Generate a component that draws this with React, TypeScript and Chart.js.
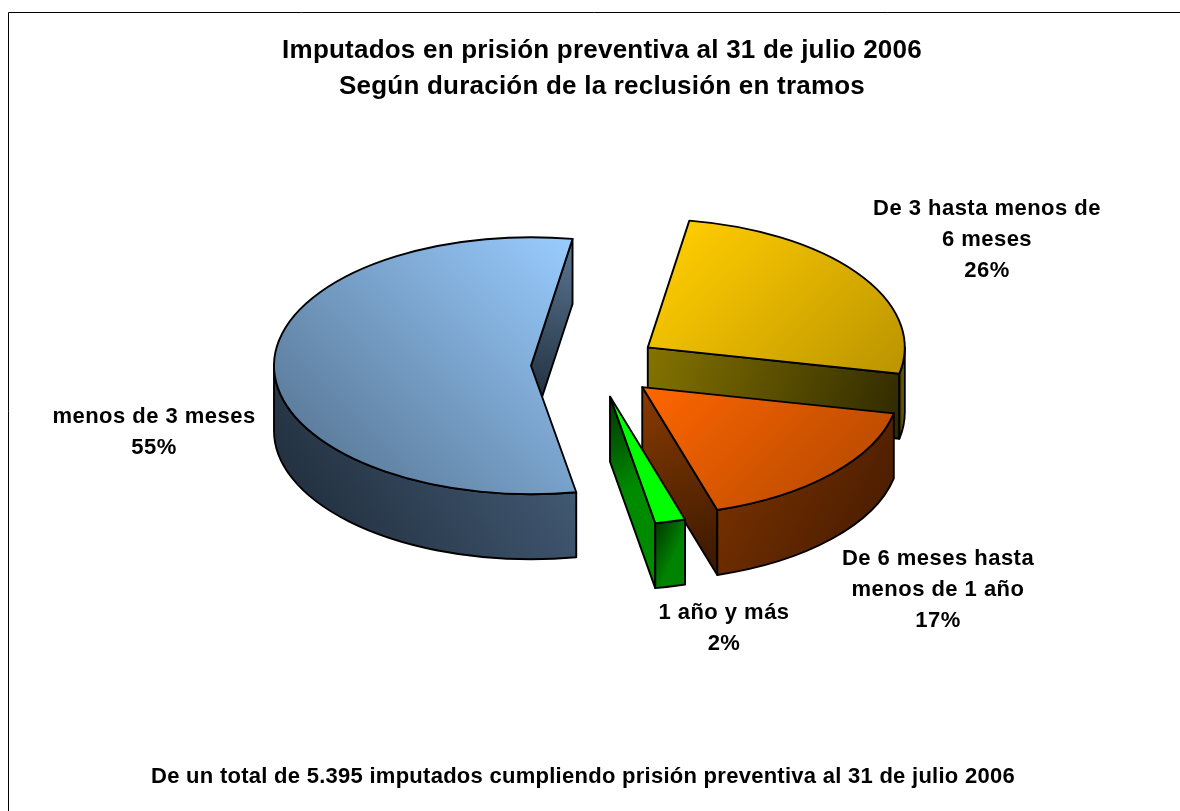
import React, { useEffect, useRef } from "react";
import { Chart, registerables } from "chart.js";

Chart.register(...registerables);

const categories = ["De 3 hasta menos de 6 meses", "De 6 meses hasta menos de 1 año", "1 año y más", "menos de 3 meses"];
const shares = [25.7, 17.0, 1.9, 55.4];
const labelLines = [
  ["De 3 hasta menos de", "6 meses"],
  ["De 6 meses hasta", "menos de 1 año"],
  ["1 año y más"],
  ["menos de 3 meses"],
];
const titleLines = ["Imputados en prisión preventiva al 31 de julio 2006", "Según duración de la reclusión en tramos"];
const footnote = "De un total de 5.395 imputados cumpliendo prisión preventiva al 31 de julio 2006";

const CANVAS_W = 1180;
const CANVAS_H = 811;
const PIE_X = 595;
const CENTER_Y = 365.5;
const RADIUS = 257;
const TILT = 0.5;
const DEPTH = 65;
const EXPLODE = 64;
const FONT = '"Liberation Sans", Arial, sans-serif';
const labelAnchors = [
  { x: 987, y: 209 },
  { x: 938, y: 559 },
  { x: 724, y: 613 },
  { x: 154, y: 417 },
];

type Grad = { from: [number, number]; to: [number, number]; c0: string; c1: string };
const topStyles: Grad[] = [
  { from: [-0.27, -0.13], to: [0.86, 0.43], c0: "#FFCC00", c1: "#BC9500" },
  { from: [0, 0], to: [0.86, 0.43], c0: "#FF6600", c1: "#C24E00" },
  { from: [0, 0], to: [1, 1], c0: "#00FF00", c1: "#00FF00" },
  { from: [0.53, -0.26], to: [-0.88, 0.44], c0: "#99CCFF", c1: "#5E7F9F" },
];
const cutStyles: Grad[] = [
  { from: [0, 0], to: [1, 1], c0: "#857400", c1: "#2E2800" },
  { from: [0, 0], to: [1, 1], c0: "#8A3C00", c1: "#381700" },
  { from: [0, 0], to: [1, 0.4], c0: "#003300", c1: "#008A00" },
  { from: [1, 0], to: [0, 1], c0: "#5C7894", c1: "#16222F" },
];
const outerStyles: Grad[] = [
  { from: [0, 0], to: [1, 0], c0: "#3A3300", c1: "#807000" },
  { from: [0, 0], to: [1, 0.6], c0: "#803500", c1: "#4A1D00" },
  { from: [0, 0], to: [1, 0.2], c0: "#003300", c1: "#008400" },
  { from: [0, 1], to: [1, 0], c0: "#1C2835", c1: "#4A6481" },
];

function boxGradient(ctx: CanvasRenderingContext2D, g: Grad, x0: number, y0: number, x1: number, y1: number) {
  const w = x1 - x0;
  const h = y1 - y0;
  const lg = ctx.createLinearGradient(x0 + g.from[0] * w, y0 + g.from[1] * h, x0 + g.to[0] * w, y0 + g.to[1] * h);
  lg.addColorStop(0, g.c0);
  lg.addColorStop(1, g.c1);
  return lg;
}

const pie3d = {
  id: "pie3d",
  beforeDraw(chart: any) {
    const ctx: any = chart.ctx;
    ctx.save();
    ctx.strokeStyle = "#000";
    ctx.lineWidth = 1;
    ctx.beginPath();
    ctx.moveTo(8.5, CANVAS_H);
    ctx.lineTo(8.5, 12.5);
    ctx.lineTo(CANVAS_W, 12.5);
    ctx.stroke();
    ctx.restore();
    ctx.letterSpacing = "0.22px";
  },
  beforeDatasetsDraw(chart: any) {
    const ctx: CanvasRenderingContext2D = chart.ctx;
    const arcs: any[] = chart.getDatasetMeta(0).data;
    const place = arcs.map((arc) => {
      const mid = (arc.startAngle + arc.endAngle) / 2;
      const dx = Math.cos(mid) * EXPLODE;
      const dy = Math.sin(mid) * EXPLODE;
      return {
        arc,
        dx: dx + PIE_X - arc.x,
        dy,
        cx: PIE_X + dx,
        cy: CENTER_Y + dy * TILT,
        r: arc.outerRadius,
      };
    });
    ctx.save();
    ctx.lineJoin = "round";
    ctx.lineWidth = 1.9;
    ctx.strokeStyle = "#000";
    // walls first
    place.forEach((p, i) => {
      const { arc, cx, cy, r } = p;
      const e = arc.endAngle;
      if (Math.cos(e) > 0) {
        const ex = cx + r * Math.cos(e);
        const ey = cy + r * TILT * Math.sin(e);
        ctx.beginPath();
        ctx.moveTo(cx, cy);
        ctx.lineTo(ex, ey);
        ctx.lineTo(ex, ey + DEPTH);
        ctx.lineTo(cx, cy + DEPTH);
        ctx.closePath();
        ctx.fillStyle = boxGradient(ctx, cutStyles[i], Math.min(cx, ex), Math.min(cy, ey), Math.max(cx, ex), Math.max(cy, ey) + DEPTH);
        ctx.fill();
        ctx.stroke();
      }
      const lo = Math.max(arc.startAngle, 0);
      const hi = Math.min(arc.endAngle, Math.PI);
      if (hi > lo) {
        const xs = [lo, hi, Math.PI / 2].filter((a) => a >= lo && a <= hi);
        const pts = [lo, hi].map((a) => cx + r * Math.cos(a));
        const top = Math.min(...xs.map((a) => cy + r * TILT * Math.sin(a)));
        const bottom = Math.max(...xs.map((a) => cy + r * TILT * Math.sin(a))) + DEPTH;
        ctx.beginPath();
        ctx.ellipse(cx, cy, r, r * TILT, 0, lo, hi, false);
        ctx.lineTo(cx + r * Math.cos(hi), cy + r * TILT * Math.sin(hi) + DEPTH);
        ctx.ellipse(cx, cy + DEPTH, r, r * TILT, 0, hi, lo, true);
        ctx.closePath();
        ctx.fillStyle = boxGradient(ctx, outerStyles[i], Math.min(...pts), top, Math.max(...pts), bottom);
        ctx.fill();
        ctx.stroke();
      }
    });
    // top faces through the library's arc elements, squashed into an ellipse
    place.forEach((p) => {
      const { arc, dx, dy, cx, cy, r } = p;
      ctx.save();
      ctx.translate(0, CENTER_Y - arc.y * TILT);
      ctx.scale(1, TILT);
      ctx.translate(dx, dy);
      arc.draw(ctx);
      ctx.restore();
      ctx.beginPath();
      ctx.moveTo(cx, cy);
      ctx.ellipse(cx, cy, r, r * TILT, 0, arc.startAngle, arc.endAngle, false);
      ctx.closePath();
      ctx.stroke();
    });
    ctx.restore();
    return false;
  },
  afterDraw(chart: any) {
    const ctx: any = chart.ctx;
    ctx.save();
    ctx.fillStyle = "#000";
    ctx.textAlign = "center";
    ctx.textBaseline = "middle";
    ctx.font = `bold 22px ${FONT}`;
    ctx.letterSpacing = "0.47px";
    shares.forEach((v, i) => {
      const lines = [...labelLines[i], `${Math.round(v)}%`];
      lines.forEach((t, k) => ctx.fillText(t, labelAnchors[i].x, labelAnchors[i].y + k * 31));
    });
    ctx.letterSpacing = "0.27px";
    ctx.fillText(footnote, 583, 777);
    ctx.restore();
  },
};

export default function App() {
  const ref = useRef<HTMLCanvasElement>(null);
  useEffect(() => {
    const chart = new Chart(ref.current as HTMLCanvasElement, {
      type: "pie",
      plugins: [pie3d],
      data: {
        labels: categories,
        datasets: [
          {
            data: shares,
            rotation: 9.3,
            radius: RADIUS,
            borderWidth: 0,
            backgroundColor: (c: any) => {
              const area = c.chart.chartArea;
              const g = topStyles[c.dataIndex];
              if (!area || !g) return "#888";
              const x = (area.left + area.right) / 2;
              const y = (area.top + area.bottom) / 2;
              const lg = c.chart.ctx.createLinearGradient(
                x + g.from[0] * RADIUS,
                y + g.from[1] * RADIUS,
                x + g.to[0] * RADIUS,
                y + g.to[1] * RADIUS
              );
              lg.addColorStop(0, g.c0);
              lg.addColorStop(1, g.c1);
              return lg;
            },
          },
        ],
      },
      options: {
        animation: false,
        responsive: false,
        layout: { padding: { left: 24 } },
        events: [],
        plugins: {
          legend: { display: false },
          tooltip: { enabled: false },
          title: {
            display: true,
            text: titleLines,
            color: "#000",
            font: { family: FONT, size: 26, weight: "bold", lineHeight: 1.385 },
            padding: { top: 33, bottom: 10 },
          },
        },
      } as any,
    });
    return () => chart.destroy();
  }, []);
  return (
    <div style={{ position: "fixed", left: 0, top: 0, width: 1180, height: 811, overflow: "hidden", background: "#fff" }}>
      <canvas ref={ref} width={CANVAS_W} height={CANVAS_H} style={{ display: "block" }} />
    </div>
  );
}
